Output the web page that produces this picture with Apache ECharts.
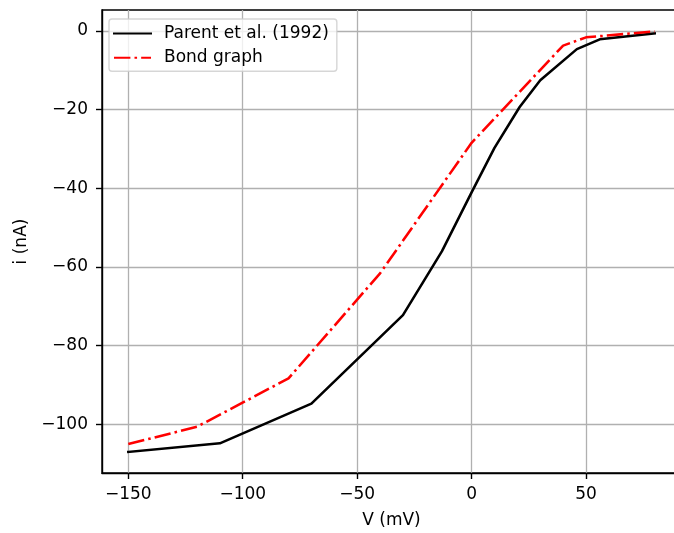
<!DOCTYPE html>
<html>
<head>
<meta charset="utf-8">
<script src="https://cdn.jsdelivr.net/npm/echarts@6/dist/echarts.min.js"></script>
<style>
  html, body { margin: 0; padding: 0; background: #ffffff; }
  #chart { width: 674px; height: 533px; }
</style>
</head>
<body>
<div id="chart"></div>
<script>
// Steady-state I-V curves: measured (Parent et al. 1992) vs. bond graph model
const parentV = [-150, -110, -70, -30, -13, 0, 10, 21, 30, 46, 56, 80];
const parentI = [-107, -104.8, -94.7, -72.2, -56, -41, -29.7, -19.3, -12.5, -4.6, -2.1, -0.6];
const bondV = [-150, -120, -80, -40, 0, 40, 50, 80];
const bondI = [-105, -100.6, -88.3, -61.6, -28.4, -3.7, -1.6, -0.1];
const xTicks = [-150, -100, -50, 0, 50];
const yTicks = [-100, -80, -60, -40, -20, 0];

const FONT = 'DejaVu Sans';
const FS = 17;
const LW = 2.56;
const minus = v => String(v).replace('-', '\u2212');
const pairs = (xs, ys) => xs.map((x, i) => [x, ys[i]]);

const chart = echarts.init(document.getElementById('chart'), null, { renderer: 'canvas' });
chart.setOption({
  animation: false,
  backgroundColor: '#ffffff',
  grid: {
    left: 102, top: 10, width: 579, height: 463,
    containLabel: false,
    outerBoundsMode: 'none',
    show: true,
    borderColor: '#000000',
    borderWidth: 1.4,
    backgroundColor: 'transparent'
  },
  legend: {
    orient: 'vertical',
    left: 109, top: 19,
    padding: [6, 8, 5, 4],
    itemWidth: 37, itemHeight: 14, itemGap: 7.3,
    backgroundColor: 'rgba(255,255,255,0.8)',
    borderColor: 'rgba(204,204,204,0.8)',
    borderWidth: 1.4,
    borderRadius: 3,
    itemStyle: { opacity: 0 },
    textStyle: { fontFamily: FONT, fontSize: FS, color: '#000000', padding: [0, 0, 0, 8] },
    data: ['Parent et al. (1992)', 'Bond graph']
  },
  xAxis: {
    type: 'value',
    min: -161.5, max: 91.5,
    splitNumber: 5,
    name: 'V (mV)',
    nameLocation: 'middle',
    nameGap: 39,
    nameTextStyle: { fontFamily: FONT, fontSize: FS, color: '#000000' },
    axisLine: { show: true, onZero: false, lineStyle: { color: '#000000', width: 1.4 } },
    axisTick: { show: true, inside: false, length: 6, customValues: xTicks, lineStyle: { color: '#000000', width: 1.4 } },
    axisLabel: { customValues: xTicks, margin: 13, fontFamily: FONT, fontSize: FS, color: '#000000', formatter: minus },
    splitLine: { show: true, lineStyle: { color: '#b0b0b0', width: 1.3 } }
  },
  yAxis: {
    type: 'value',
    min: -112.35, max: 5.35,
    splitNumber: 6,
    name: 'i (nA)',
    nameLocation: 'middle',
    nameRotate: 90,
    nameGap: 71,
    nameTextStyle: { fontFamily: FONT, fontSize: FS, color: '#000000' },
    axisLine: { show: true, onZero: false, lineStyle: { color: '#000000', width: 1.4 } },
    axisTick: { show: true, inside: false, length: 6, customValues: yTicks, lineStyle: { color: '#000000', width: 1.4 } },
    axisLabel: { customValues: yTicks, margin: 14, fontFamily: FONT, fontSize: FS, color: '#000000', formatter: minus },
    splitLine: { show: true, lineStyle: { color: '#b0b0b0', width: 1.3 } }
  },
  series: [
    {
      name: 'Parent et al. (1992)',
      type: 'line',
      data: pairs(parentV, parentI),
      symbol: 'none',
      showSymbol: false,
      lineStyle: { color: '#000000', width: LW, cap: 'square', join: 'round' },
      itemStyle: { color: '#000000' },
      z: 3
    },
    {
      name: 'Bond graph',
      type: 'line',
      data: pairs(bondV, bondI),
      symbol: 'none',
      showSymbol: false,
      lineStyle: { color: '#ff0000', width: LW, type: [16.4, 4.1, 2.56, 4.1], cap: 'butt', join: 'round' },
      itemStyle: { color: '#ff0000' },
      z: 4
    }
  ]
});
</script>
</body>
</html>
